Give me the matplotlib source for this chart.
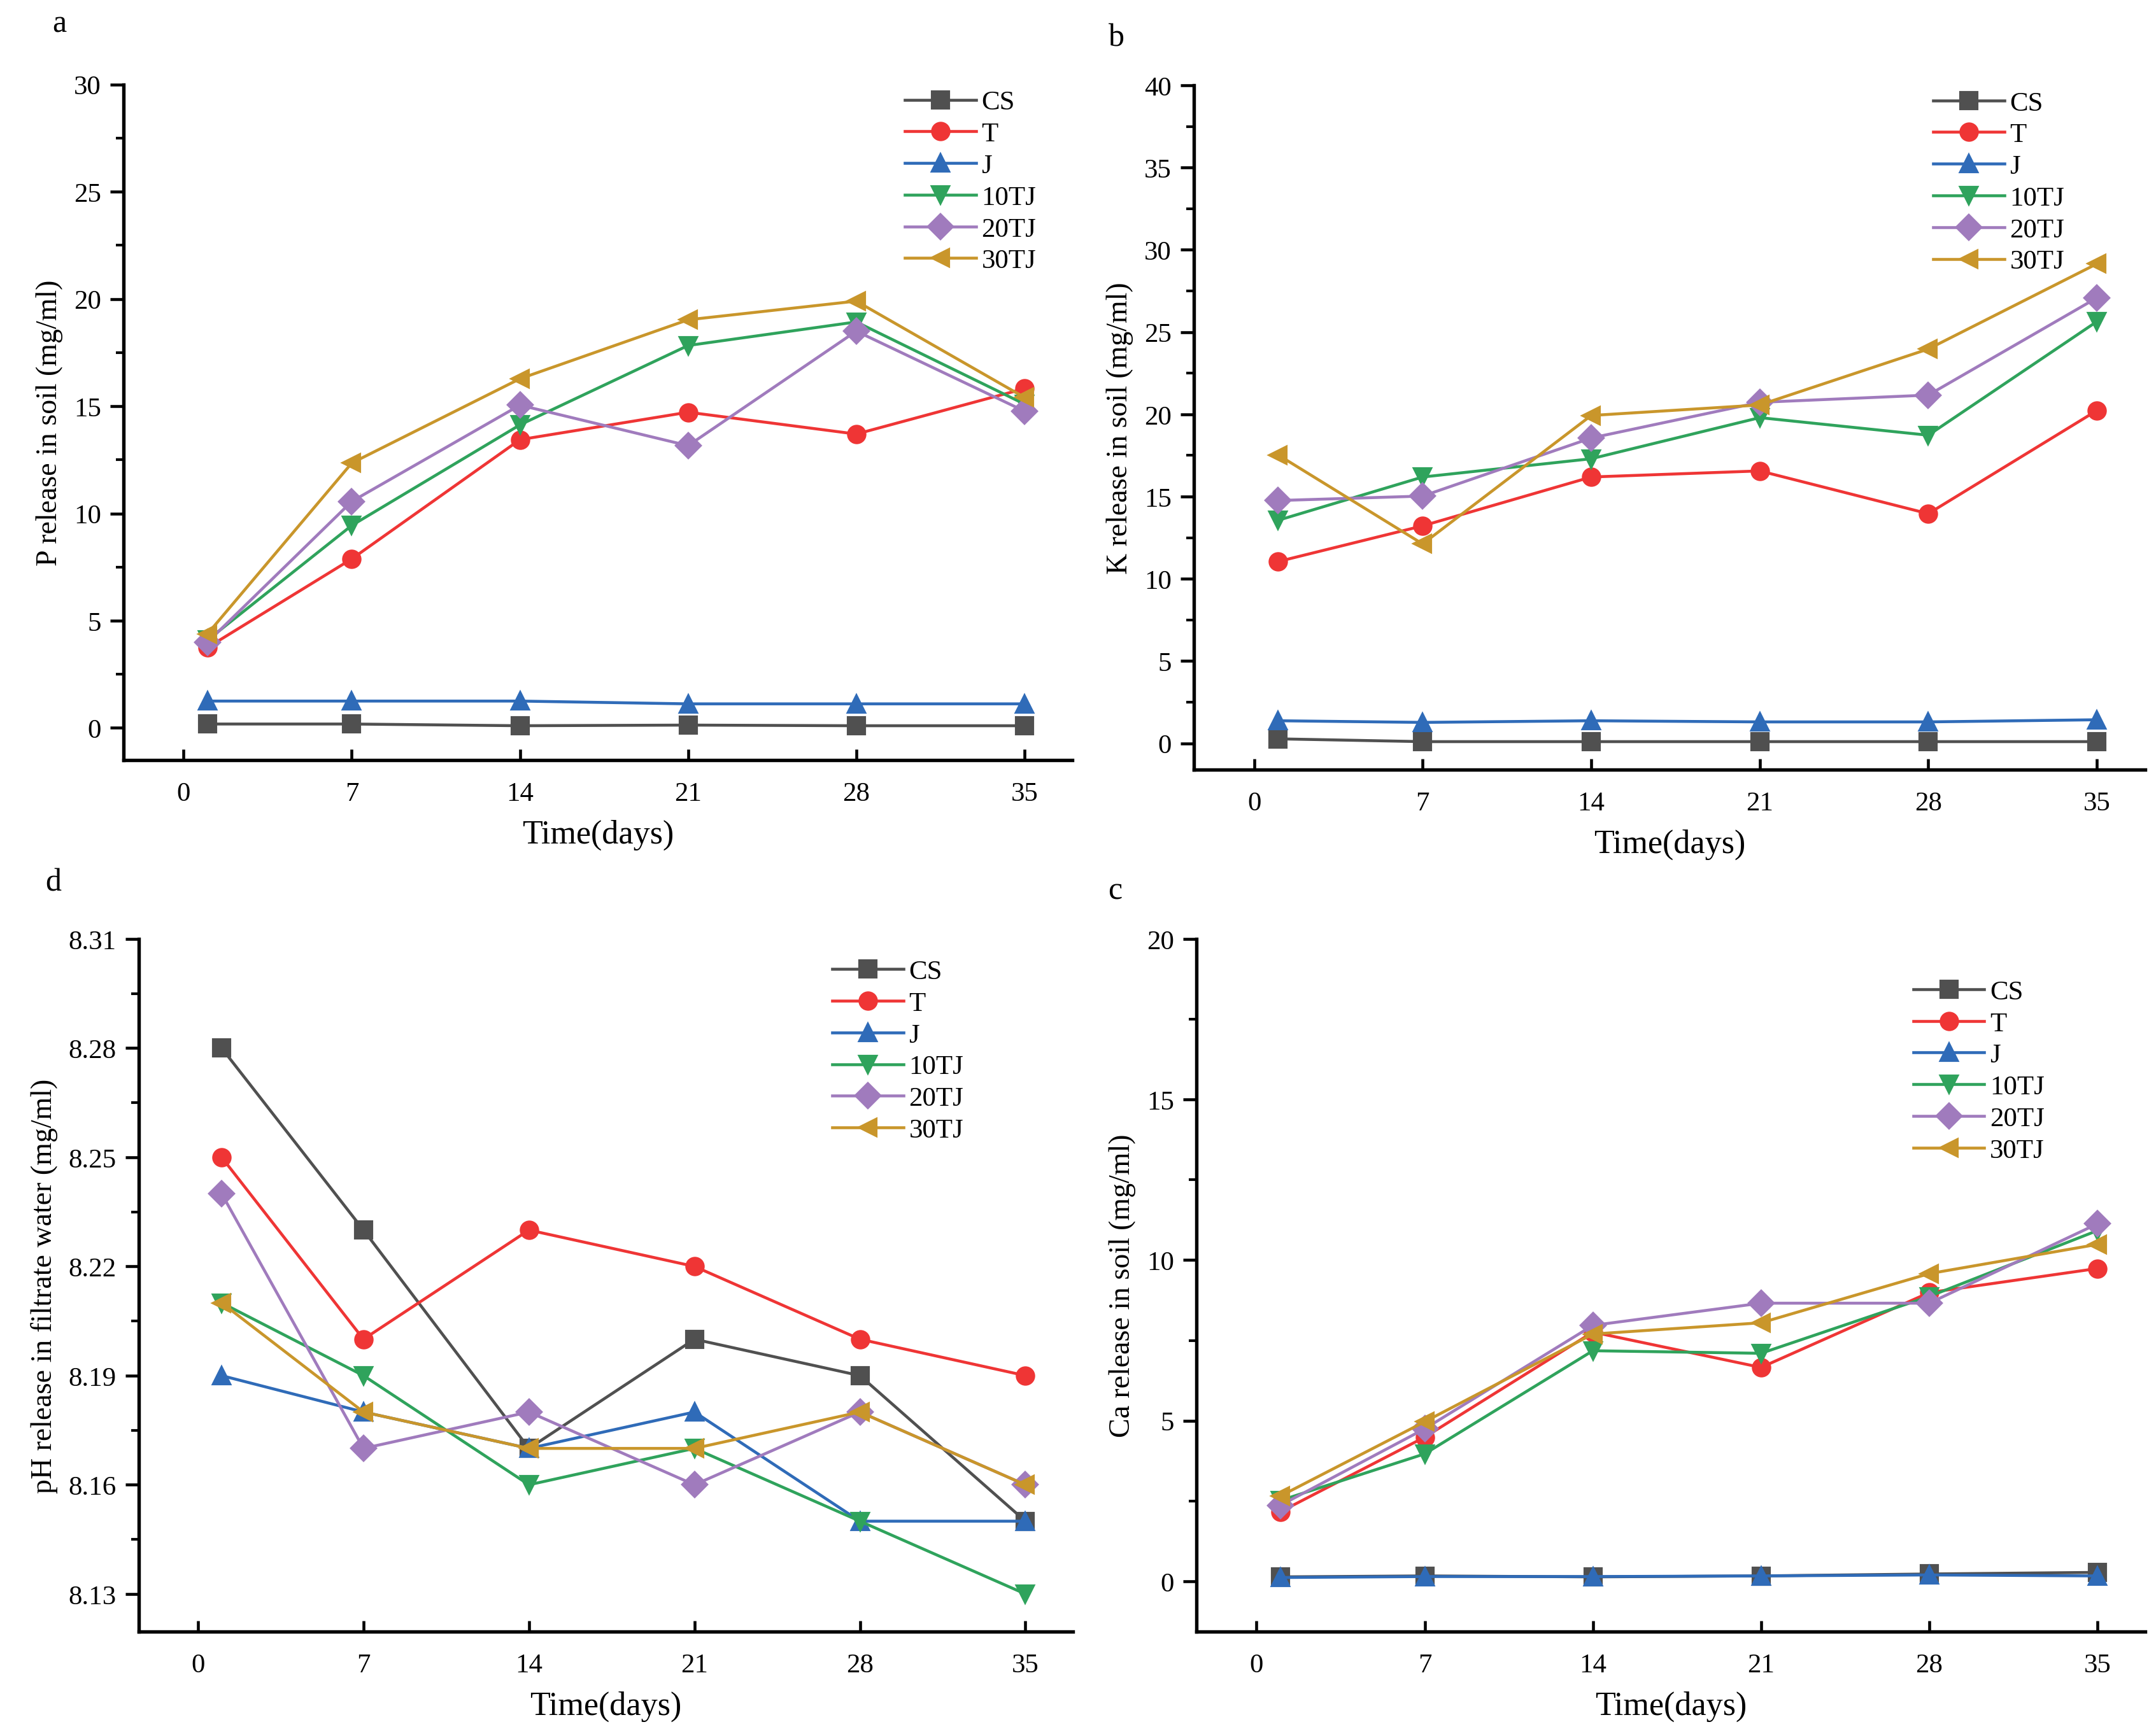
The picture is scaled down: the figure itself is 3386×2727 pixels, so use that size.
import matplotlib
matplotlib.use('Agg')
import matplotlib.pyplot as plt
from matplotlib.ticker import MultipleLocator, AutoMinorLocator

plt.rcParams['font.family'] = ['Liberation Serif', 'DejaVu Serif']

days = [1, 7, 14, 21, 28, 35]
names = ['CS', 'T', 'J', '10TJ', '20TJ', '30TJ']
colors = ['#505050', '#ef3535', '#2f6bb8', '#2fa35c', '#a07bbd', '#c9962b']
markers = ['s', 'o', '^', 'v', 'D', '<']

# a - P release
p_cs = [0.18, 0.18, 0.1, 0.13, 0.1, 0.1]
p_t = [3.75, 7.88, 13.44, 14.72, 13.7, 15.82]
p_j = [1.25, 1.25, 1.25, 1.12, 1.12, 1.12]
p_10 = [4.1, 9.44, 14.13, 17.83, 18.93, 15.1]
p_20 = [4.0, 10.56, 15.05, 13.16, 18.5, 14.77]
p_30 = [4.39, 12.35, 16.28, 19.03, 19.9, 15.41]

# b - K release
k_cs = [0.27, 0.1, 0.1, 0.1, 0.1, 0.1]
k_t = [11.05, 13.22, 16.19, 16.56, 13.96, 20.23]
k_j = [1.37, 1.27, 1.37, 1.3, 1.3, 1.43]
k_10 = [13.56, 16.19, 17.3, 19.8, 18.73, 25.64]
k_20 = [14.76, 15.03, 18.56, 20.73, 21.17, 27.08]
k_30 = [17.53, 12.12, 19.93, 20.57, 23.97, 29.15]

# d - pH
ph_cs = [8.28, 8.23, 8.17, 8.20, 8.19, 8.15]
ph_t = [8.25, 8.20, 8.23, 8.22, 8.20, 8.19]
ph_j = [8.19, 8.18, 8.17, 8.18, 8.15, 8.15]
ph_10 = [8.21, 8.19, 8.16, 8.17, 8.15, 8.13]
ph_20 = [8.24, 8.17, 8.18, 8.16, 8.18, 8.16]
ph_30 = [8.21, 8.18, 8.17, 8.17, 8.18, 8.16]

# c - Ca release
ca_cs = [0.14, 0.17, 0.14, 0.17, 0.23, 0.28]
ca_j = [0.12, 0.15, 0.15, 0.17, 0.2, 0.17]
ca_t = [2.17, 4.49, 7.76, 6.66, 8.99, 9.74]
ca_10 = [2.52, 3.97, 7.18, 7.1, 8.87, 10.92]
ca_20 = [2.37, 4.75, 7.97, 8.66, 8.66, 11.13]
ca_30 = [2.66, 4.97, 7.7, 8.05, 9.58, 10.49]

# letter, data, ylabel, ylim, y step, axes rect, legend anchor, letter pos
panels = [
    ('a', [p_cs, p_t, p_j, p_10, p_20, p_30], 'P release in soil (mg/ml)',
     (-1.5, 30), 5, [0.0573, 0.562, 0.44, 0.389], (0.809, 1.012), (-0.075, 1.09)),
    ('b', [k_cs, k_t, k_j, k_10, k_20, k_30], 'K release in soil (mg/ml)',
     (-1.6, 40), 5, [0.5536, 0.5565, 0.441, 0.394], (0.763, 1.012), (-0.09, 1.07)),
    ('d', [ph_cs, ph_t, ph_j, ph_10, ph_20, ph_30], 'pH release in filtrate water (mg/ml)',
     (8.1196, 8.31), 0.03, [0.0644, 0.06, 0.433, 0.399], (0.728, 0.99), (-0.10, 1.081)),
    ('c', [ca_cs, ca_t, ca_j, ca_10, ca_20, ca_30], 'Ca release in soil (mg/ml)',
     (-1.57, 20), 5, [0.5548, 0.06, 0.44, 0.399], (0.741, 0.961), (-0.093, 1.069)),
]

fig = plt.figure(figsize=(11.29, 9.093), dpi=300)

for letter, series, ylabel, ylim, step, rect, legpos, lpos in panels:
    ax = fig.add_axes(rect)
    for vals, nm, c, m in zip(series, names, colors, markers):
        ax.plot(days, vals, color=c, marker=m, markersize=6.3, lw=1.1, label=nm)
    ax.set_xlim(-2.5, 37)
    ax.set_ylim(*ylim)
    ax.set_xticks([0, 7, 14, 21, 28, 35])
    ax.yaxis.set_major_locator(MultipleLocator(step))
    ax.yaxis.set_minor_locator(AutoMinorLocator(2))
    if letter == 'd':
        ax.set_yticks([8.13, 8.16, 8.19, 8.22, 8.25, 8.28, 8.31])
        ax.set_yticklabels(['8.13', '8.16', '8.19', '8.22', '8.25', '8.28', '8.31'])
    for s in ['top', 'right']:
        ax.spines[s].set_visible(False)
    for s in ['left', 'bottom']:
        ax.spines[s].set_linewidth(1.3)
    ax.tick_params(axis='y', which='major', direction='out', length=5, width=1.1, labelsize=10.3)
    ax.tick_params(axis='y', which='minor', direction='out', length=3, width=1.0)
    ax.tick_params(axis='x', which='major', direction='in', length=4, width=1.1, labelsize=10.3, pad=8)
    ax.set_xlabel('Time(days)', fontsize=12.5, labelpad=5)
    ax.set_ylabel(ylabel, fontsize=11)
    ax.legend(loc='upper left', bbox_to_anchor=legpos, frameon=False, fontsize=10.3,
              handlelength=2.6, handletextpad=0.2, labelspacing=0.25, borderpad=0)
    ax.text(lpos[0], lpos[1], letter, transform=ax.transAxes, fontsize=12, va='center')

plt.savefig('out.png', dpi=300)
